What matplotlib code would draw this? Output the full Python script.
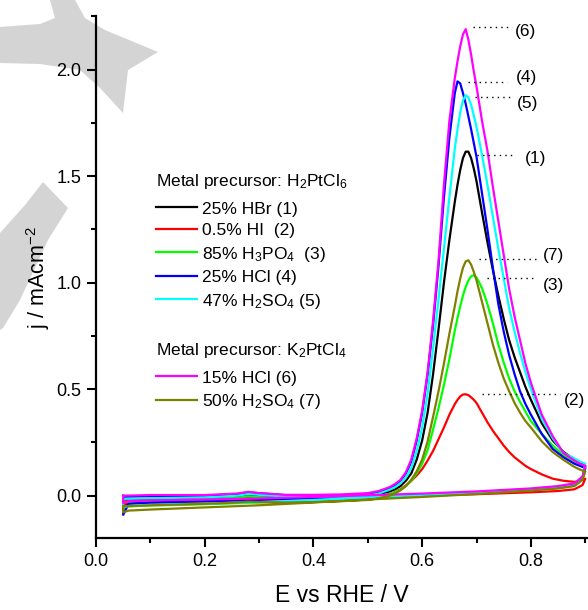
import numpy as np
import matplotlib.pyplot as plt
from matplotlib.patches import Polygon
from matplotlib.ticker import MultipleLocator

plt.rcParams['font.family'] = 'Liberation Sans'
plt.rcParams['mathtext.fontset'] = 'custom'
plt.rcParams['mathtext.rm'] = 'Liberation Sans'
plt.rcParams['mathtext.it'] = 'Liberation Sans:italic'
plt.rcParams['mathtext.bf'] = 'Liberation Sans:bold'

# potential (V vs RHE): anodic scan with the peak, then the return scan
e_fwd = [0.05, 0.10, 0.20, 0.26, 0.28, 0.30, 0.35, 0.40, 0.45, 0.50,
         0.52, 0.54, 0.55,
         0.56, 0.57, 0.58, 0.59, 0.60, 0.61, 0.62, 0.63, 0.64, 0.65, 0.66,
         0.665, 0.67, 0.675, 0.68, 0.685, 0.69, 0.695, 0.70,
         0.71, 0.72, 0.73, 0.74, 0.75, 0.76, 0.77, 0.78, 0.79, 0.80,
         0.82, 0.84, 0.86, 0.88, 0.89, 0.90]
e_bwd = [0.895, 0.88, 0.85, 0.80, 0.70, 0.60, 0.50, 0.40, 0.30, 0.20, 0.10, 0.06, 0.05]

# current density (mA cm-2)
j_fwd_1 = [-0.02, -0.015, -0.01, -0.003, 0.004, 0.0, -0.006, -0.006, -0.004, -0.002,
           0.006, 0.02, 0.03,
           0.045, 0.07, 0.105, 0.17, 0.26, 0.39, 0.57, 0.78, 1.00, 1.20, 1.38,
           1.46, 1.53, 1.585, 1.615, 1.615, 1.585, 1.535, 1.475,
           1.33, 1.19, 1.06, 0.94, 0.83, 0.73, 0.65, 0.58, 0.51, 0.45,
           0.34, 0.26, 0.205, 0.17, 0.155, 0.14]
j_fwd_2 = [-0.025, -0.02, -0.015, -0.01, -0.005, -0.008, -0.012, -0.012, -0.01, -0.008,
           -0.003, 0.008, 0.018,
           0.03, 0.048, 0.07, 0.095, 0.125, 0.165, 0.21, 0.265, 0.32, 0.38, 0.43,
           0.45, 0.466, 0.475, 0.476, 0.472, 0.462, 0.45, 0.435,
           0.39, 0.345, 0.305, 0.27, 0.235, 0.205, 0.18, 0.16, 0.14, 0.125,
           0.10, 0.08, 0.07, 0.065, 0.068, 0.08]
j_fwd_3 = [-0.03, -0.025, -0.018, -0.01, -0.003, -0.007, -0.014, -0.015, -0.013, -0.01,
           -0.003, 0.008, 0.017,
           0.028, 0.045, 0.07, 0.105, 0.15, 0.215, 0.31, 0.41, 0.52, 0.64, 0.775,
           0.835, 0.89, 0.94, 0.98, 1.01, 1.03, 1.035, 1.025,
           0.975, 0.90, 0.81, 0.71, 0.625, 0.55, 0.49, 0.44, 0.395, 0.35,
           0.29, 0.235, 0.19, 0.16, 0.145, 0.13]
j_fwd_4 = [-0.005, -0.003, 0.0, 0.008, 0.016, 0.012, 0.002, 0.0, 0.002, 0.006,
           0.015, 0.035, 0.05,
           0.07, 0.105, 0.16, 0.26, 0.39, 0.57, 0.80, 1.08, 1.40, 1.68, 1.89,
           1.945, 1.935, 1.89, 1.84, 1.78, 1.72, 1.655, 1.59,
           1.42, 1.25, 1.07, 0.90, 0.77, 0.66, 0.57, 0.49, 0.43, 0.38,
           0.29, 0.22, 0.18, 0.15, 0.14, 0.13]
j_fwd_5 = [-0.015, -0.012, -0.008, 0.0, 0.008, 0.004, -0.004, -0.005, -0.003, 0.0,
           0.01, 0.028, 0.04,
           0.058, 0.085, 0.13, 0.21, 0.32, 0.48, 0.69, 0.92, 1.16, 1.40, 1.63,
           1.72, 1.80, 1.855, 1.88, 1.87, 1.835, 1.785, 1.73,
           1.60, 1.46, 1.31, 1.16, 1.02, 0.88, 0.77, 0.67, 0.58, 0.50,
           0.36, 0.27, 0.20, 0.175, 0.16, 0.15]
j_fwd_6 = [0.0, 0.003, 0.003, 0.01, 0.018, 0.012, 0.004, 0.004, 0.006, 0.012,
           0.022, 0.04, 0.055,
           0.074, 0.11, 0.17, 0.27, 0.40, 0.58, 0.82, 1.10, 1.46, 1.76, 1.96,
           2.04, 2.11, 2.165, 2.19, 2.14, 2.07, 1.99, 1.92,
           1.76, 1.62, 1.45, 1.29, 1.13, 0.97, 0.84, 0.73, 0.62, 0.53,
           0.38, 0.28, 0.20, 0.165, 0.15, 0.14]
j_fwd_7 = [-0.05, -0.045, -0.038, -0.032, -0.028, -0.03, -0.032, -0.03, -0.026, -0.02,
           -0.012, 0.0, 0.01,
           0.025, 0.045, 0.075, 0.115, 0.17, 0.255, 0.37, 0.49, 0.62, 0.76, 0.89,
           0.96, 1.02, 1.07, 1.10, 1.105, 1.085, 1.05, 1.01,
           0.91, 0.81, 0.71, 0.625, 0.55, 0.49, 0.435, 0.39, 0.35, 0.32,
           0.255, 0.205, 0.168, 0.135, 0.123, 0.113]

j_bwd_1 = [0.08, 0.05, 0.038, 0.028, 0.014, 0.003, -0.006, -0.015, -0.022, -0.028, -0.033, -0.037, -0.045]
j_bwd_2 = [0.05, 0.03, 0.022, 0.016, 0.007, 0.0, -0.008, -0.016, -0.022, -0.027, -0.032, -0.035, -0.04]
j_bwd_3 = [0.08, 0.048, 0.036, 0.026, 0.012, 0.0, -0.01, -0.022, -0.032, -0.04, -0.046, -0.05, -0.058]
j_bwd_4 = [0.085, 0.052, 0.04, 0.03, 0.016, 0.006, -0.003, -0.012, -0.02, -0.026, -0.032, -0.038, -0.09]
j_bwd_5 = [0.09, 0.055, 0.043, 0.032, 0.016, 0.004, -0.008, -0.02, -0.03, -0.037, -0.043, -0.048, -0.055]
j_bwd_6 = [0.09, 0.058, 0.045, 0.034, 0.02, 0.01, 0.002, -0.006, -0.013, -0.018, -0.022, -0.026, -0.035]
j_bwd_7 = [0.075, 0.045, 0.034, 0.024, 0.008, -0.006, -0.018, -0.032, -0.045, -0.055, -0.065, -0.07, -0.078]

labels = ['25% HBr (1)', '0.5% HI  (2)', '85% H$_3$PO$_4$  (3)', '25% HCl (4)',
          '47% H$_2$SO$_4$ (5)', '15% HCl (6)', '50% H$_2$SO$_4$ (7)']
tags = ['(1)', '(2)', '(3)', '(4)', '(5)', '(6)', '(7)']
colors = ['black', '#ff0000', '#00ff00', '#0000ff', '#00ffff', '#ff00ff', '#808000']

j_fwd = [j_fwd_1, j_fwd_2, j_fwd_3, j_fwd_4, j_fwd_5, j_fwd_6, j_fwd_7]
j_bwd = [j_bwd_1, j_bwd_2, j_bwd_3, j_bwd_4, j_bwd_5, j_bwd_6, j_bwd_7]

W, H = 588, 610
fig = plt.figure(figsize=(W / 100, H / 100), dpi=100)

# grey watermark shapes in the top left corner (pixel outlines)
wm = [[(50, 0), (75, 0), (85, 18), (105, 30), (158, 52), (128, 70), (123, 113), (100, 88),
       (80, 70), (40, 64), (0, 63), (0, 27), (40, 24), (55, 18)],
      [(43, 182), (68, 208), (48, 240), (20, 300), (3, 328), (0, 330), (0, 233), (25, 205)]]
for shape in wm:
    pts = [(x / W, 1 - y / H) for x, y in shape]
    fig.add_artist(Polygon(pts, closed=True, transform=fig.transFigure,
                           facecolor='#d4d4d4', edgecolor='none', zorder=-1))

ax = fig.add_axes([96 / W, 1 - 538.3 / H, 1 - 96 / W, (538.3 - 16.4) / H])
ax.patch.set_visible(False)

lines = []
for i in range(7):
    x = e_fwd + e_bwd + [e_fwd[0]]
    y = j_fwd[i] + j_bwd[i] + [j_fwd[i][0]]
    ln, = ax.plot(x, y, color=colors[i], lw=1.6, label=labels[i])
    lines.append(ln)

# dotted leaders: (tag index, x start, x end, y, text x, text y)
leaders = [(5, 0.694, 0.765, 2.202, 0.771, 2.178),
           (3, 0.685, 0.756, 1.941, 0.773, 1.965),
           (4, 0.698, 0.765, 1.873, 0.774, 1.839),
           (0, 0.701, 0.771, 1.600, 0.788, 1.581),
           (6, 0.704, 0.811, 1.110, 0.822, 1.127),
           (2, 0.719, 0.811, 1.024, 0.822, 0.986),
           (1, 0.710, 0.853, 0.476, 0.861, 0.449)]
for k, x0, x1, yl, tx, ty in leaders:
    ax.plot([x0, x1], [yl, yl], color='black', lw=1.0, ls=(0, (1, 3)))
    ax.text(tx, ty, tags[k], fontsize=12.5, va='center', ha='left', clip_on=False)

ax.set_xlim(0, 0.905)
ax.set_ylim(-0.2, 2.25)
ax.xaxis.set_major_locator(MultipleLocator(0.2))
ax.xaxis.set_minor_locator(MultipleLocator(0.1))
ax.yaxis.set_major_locator(MultipleLocator(0.5))
ax.yaxis.set_minor_locator(MultipleLocator(0.25))
ax.tick_params(which='major', length=6.5, width=1.5, labelsize=13, pad=4)
ax.tick_params(which='minor', length=3.5, width=1.5)
for s in ['top', 'right']:
    ax.spines[s].set_visible(False)
for s in ['left', 'bottom']:
    ax.spines[s].set_linewidth(1.6)
ax.xaxis.set_major_formatter(plt.FuncFormatter(lambda v, p: '%.1f' % v))
ax.yaxis.set_major_formatter(plt.FuncFormatter(lambda v, p: '%.1f' % v))

ax.set_xlabel('E vs RHE / V', fontsize=16.5, labelpad=10)
ax.set_ylabel('j / mAcm$^{-2}$', fontsize=15.5, labelpad=3)

leg_kw = dict(frameon=False, fontsize=12.5, title_fontsize=12.5, handlelength=2.36,
              handletextpad=0.27, labelspacing=0.37, borderpad=0, borderaxespad=0,
              alignment='left', loc='upper left', bbox_transform=fig.transFigure)
leg1 = ax.legend(lines[:5], labels[:5], title='Metal precursor: H$_2$PtCl$_6$',
                 bbox_to_anchor=(156 / W, 1 - 172 / H), **leg_kw)
ax.add_artist(leg1)
leg2 = ax.legend(lines[5:], labels[5:], title='Metal precursor: K$_2$PtCl$_4$',
                 bbox_to_anchor=(156 / W, 1 - 341 / H), **leg_kw)
# a bit more room between each legend title and its entries
for lg in [leg1, leg2]:
    lg._legend_box.sep = 7.5

fig.savefig('out.png', dpi=100)
